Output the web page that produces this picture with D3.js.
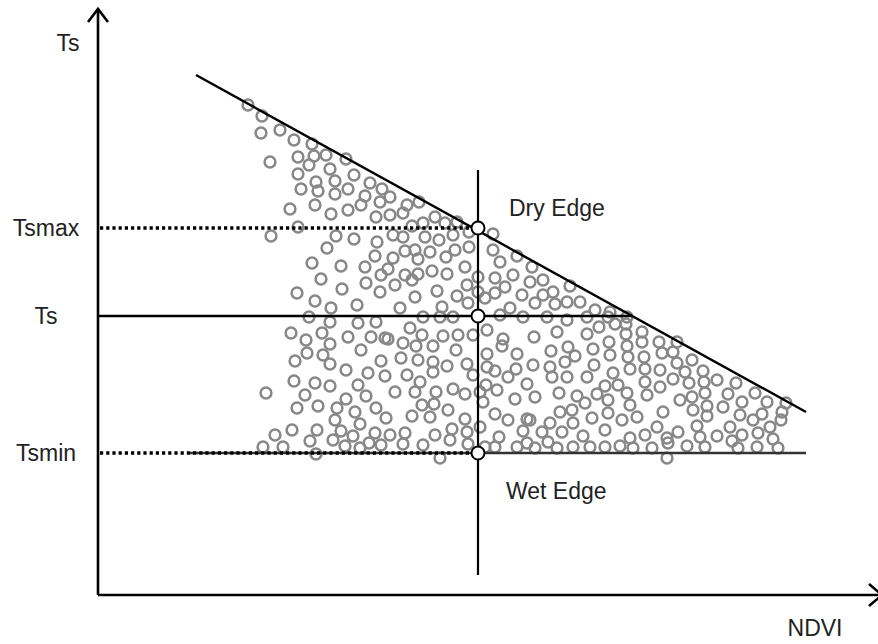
<!DOCTYPE html>
<html>
<head>
<meta charset="utf-8">
<script src="https://d3js.org/d3.v7.min.js"></script>
<style>
  body { margin: 0; background: #fff; }
  text { font-family: 'Liberation Sans', Arial, sans-serif; font-size: 23px; fill: #222; }
</style>
</head>
<body>
<div id="chart"></div>
<script>

// scatter samples in diagram units: [ndvi, ts]
var samples = [
  [150,490],[164,479],[163,462],[182,465],[196,455],[214,451],[172,433],[200,438],[216,439],[228,440],
  [248,436],[211,430],[200,421],[232,426],[256,420],[218,413],[237,414],[272,412],[203,406],[220,404],
  [237,401],[250,406],[284,406],[267,399],[282,393],[292,398],[192,386],[217,390],[233,381],[250,385],
  [263,390],[278,378],[309,390],[321,393],[305,382],[292,380],[314,369],[325,372],[337,378],[347,372],
  [359,373],[200,368],
  [173,359],[238,359],[256,356],[279,353],[229,347],[277,339],[214,332],[243,329],[267,328],[223,316],
  [268,312],[283,320],[244,306],[199,302],[217,294],[233,287],[259,290],[282,303],[211,278],[232,273],
  [260,272],[278,273],
  [295,360],[305,358],[327,358],[341,355],[355,360],[371,363],[295,337],[307,344],[317,345],[332,343],
  [348,338],[357,345],[371,348],[320,336],[290,326],[307,320],[320,321],[334,324],[349,321],[367,328],
  [380,318],[297,310],[314,315],[369,310],[339,304],[317,298],[359,299],[370,292],[302,287],[344,288],
  [325,278],[342,278],[355,278],
  [395,361],[395,345],[402,333],[419,339],[434,328],[397,317],[415,320],[432,313],[445,315],[472,309],
  [380,303],[397,302],[407,308],[424,300],[437,292],[445,300],[455,303],[457,291],[469,293],[482,293],
  [412,287],[387,297],[497,285],[512,283],[402,280],[425,278],[449,278],[469,275],[489,278],[510,278],
  [529,278],
  [193,262],[208,255],[224,262],[250,258],[273,258],[287,257],[232,251],[209,242],[225,240],[263,245],
  [197,234],[232,231],[248,225],[270,222],[283,234],[196,214],[217,212],[232,209],[260,210],[287,219],
  [168,202],[207,200],[248,196],[268,199],[199,187],[220,189],[239,187],[257,183],[278,187],[237,175],
  [262,171],[288,177],[177,160],[194,165],[219,165],[243,164],[255,159],[277,162],[212,154],[235,155],
  [271,152],[165,148],[185,148],[247,149],[262,147],[283,150],[218,141],
  [290,256],[312,267],[324,260],[305,252],[318,249],[335,249],[345,259],[360,260],[358,245],[375,260],
  [389,265],[405,256],[404,249],[419,241],[389,241],[303,237],[320,235],[335,233],[349,229],[335,223],
  [369,231],[375,220],[389,228],[397,224],[410,218],[418,226],[309,220],[322,213],[429,211],[297,203],
  [317,203],[338,203],[355,206],[367,201],[382,203],[388,210],[399,205],[417,196],[385,193],[324,190],
  [336,191],[350,185],[314,179],[332,178],[367,176],[397,181],[410,175],[429,176],[382,168],[292,160],
  [307,162],[337,160],[354,166],[369,163],[401,158],[425,164],[305,151],[325,150],[352,155],[370,151],
  [387,148],[397,148],[419,148],[342,137],
  [459,263],[489,261],[501,268],[528,261],[544,263],[561,253],[436,258],[511,253],[529,249],[544,253],
  [470,248],[495,246],[453,244],[477,239],[512,240],[530,238],[546,238],[564,242],[435,230],[452,228],
  [467,233],[496,230],[547,226],[562,225],[532,226],[454,218],[469,218],[489,218],[515,222],[547,213],
  [562,208],[507,209],[520,210],[437,198],[461,202],[479,199],[499,201],[529,202],[549,200],[487,192],
  [510,195],[532,190],[462,183],[474,185],[494,177],[510,182],[524,175],[539,178],[565,183],[432,175],
  [452,172],[475,172],[507,165],[559,168],[444,163],[464,163],[485,159],[532,157],[547,160],[569,157],
  [429,152],[450,153],[437,147],[459,147],[475,148],[492,148],[507,148],[522,149],[535,147],[554,147],
  [569,137],[517,271],[528,271],
  [579,253],[575,243],[594,235],[579,232],[587,223],[605,224],[575,216],[591,212],[606,213],[619,215],
  [638,212],[607,202],[594,198],[582,195],[630,201],[657,202],[644,193],[669,193],[688,192],[609,189],
  [625,188],[595,185],[609,179],[642,180],[664,181],[655,175],[684,183],[683,175],[599,169],[632,168],
  [672,168],[660,162],[580,163],[602,158],[619,159],[644,160],[675,156],[634,154],[570,152],[589,149],
  [607,148],[640,147],[659,148],[680,147]
]

// reference levels (diagram units)
var tsLevels = [
  { name: 'Tsmax', value: 367 },
  { name: 'Ts', value: 279 },
  { name: 'Tsmin', value: 142 }
]
var ndviMark = 380
var dryEdge = [[98, 520], [708, 183]]
var wetEdge = [92, 708]
var tsLineEnd = 534
var vLine = [20, 425]

var w = 878, h = 644

var x = d3.scaleLinear().domain([0, 780]).range([98, 878])
var y = d3.scaleLinear().domain([0, 590]).range([595, 5])

var svg = d3.select('#chart').append('svg')
  .attr('width', w)
  .attr('height', h)

// scatter circles
svg.append('g')
  .selectAll('circle')
  .data(samples)
  .enter().append('circle')
  .attr('cx', function(d) { return x(d[0]) })
  .attr('cy', function(d) { return y(d[1]) })
  .attr('r', 5.4)
  .attr('fill', 'none')
  .attr('stroke', '#888')
  .attr('stroke-width', 2.5)

// axes with arrows
svg.append('line')
  .attr('x1', x(0)).attr('y1', y(0))
  .attr('x2', x(0)).attr('y2', y(586))
  .attr('stroke', '#000').attr('stroke-width', 2.6)
svg.append('path')
  .attr('d', 'M' + (x(0) - 10) + ',' + (y(586) + 13) + 'L' + x(0) + ',' + y(586) + 'L' + (x(0) + 10) + ',' + (y(586) + 13))
  .attr('fill', 'none').attr('stroke', '#000').attr('stroke-width', 2.6)
svg.append('line')
  .attr('x1', x(0)).attr('y1', y(0))
  .attr('x2', x(784)).attr('y2', y(0))
  .attr('stroke', '#000').attr('stroke-width', 2.6)
svg.append('path')
  .attr('d', 'M' + (x(784) - 13) + ',' + (y(0) - 11) + 'L' + x(784) + ',' + y(0) + 'L' + (x(784) - 13) + ',' + (y(0) + 11))
  .attr('fill', 'none').attr('stroke', '#000').attr('stroke-width', 2.6)

// wet edge (solid) and dry edge
svg.append('line')
  .attr('x1', x(wetEdge[0])).attr('y1', y(tsLevels[2].value))
  .attr('x2', x(wetEdge[1])).attr('y2', y(tsLevels[2].value))
  .attr('stroke', '#333').attr('stroke-width', 2.6)
svg.append('line')
  .attr('x1', x(dryEdge[0][0])).attr('y1', y(dryEdge[0][1]))
  .attr('x2', x(dryEdge[1][0])).attr('y2', y(dryEdge[1][1]))
  .attr('stroke', '#000').attr('stroke-width', 2.4)

// Ts line
svg.append('line')
  .attr('x1', x(0)).attr('y1', y(tsLevels[1].value))
  .attr('x2', x(tsLineEnd)).attr('y2', y(tsLevels[1].value))
  .attr('stroke', '#000').attr('stroke-width', 2.4)

// dotted Tsmax / Tsmin
svg.selectAll('.dotted')
  .data([tsLevels[0], tsLevels[2]])
  .enter().append('line')
  .attr('class', 'dotted')
  .attr('x1', x(2)).attr('x2', x(ndviMark))
  .attr('y1', function(d) { return y(d.value) })
  .attr('y2', function(d) { return y(d.value) })
  .attr('stroke', '#000')
  .attr('stroke-width', 3.5)
  .attr('stroke-dasharray', '3.2,3')

// vertical NDVI line
svg.append('line')
  .attr('x1', x(ndviMark)).attr('y1', y(vLine[0]))
  .attr('x2', x(ndviMark)).attr('y2', y(vLine[1]))
  .attr('stroke', '#000').attr('stroke-width', 2.2)

// white markers
svg.selectAll('.marker')
  .data(tsLevels)
  .enter().append('circle')
  .attr('class', 'marker')
  .attr('cx', x(ndviMark))
  .attr('cy', function(d) { return y(d.value) })
  .attr('r', 6.5)
  .attr('fill', '#fff')
  .attr('stroke', '#000')
  .attr('stroke-width', 2)

// labels
svg.selectAll('.lvl')
  .data(tsLevels)
  .enter().append('text')
  .attr('class', 'lvl')
  .attr('x', 46)
  .attr('y', function(d) { return y(d.value) + 8 })
  .attr('text-anchor', 'middle')
  .text(function(d) { return d.name })

svg.append('text').attr('x', 68).attr('y', 51).attr('text-anchor', 'middle').text('Ts')
svg.append('text').attr('x', 815).attr('y', 636).attr('text-anchor', 'middle').text('NDVI')
svg.append('text').attr('x', 509).attr('y', 216).text('Dry Edge')
svg.append('text').attr('x', 506).attr('y', 499).text('Wet Edge')

</script>
</body>
</html>
